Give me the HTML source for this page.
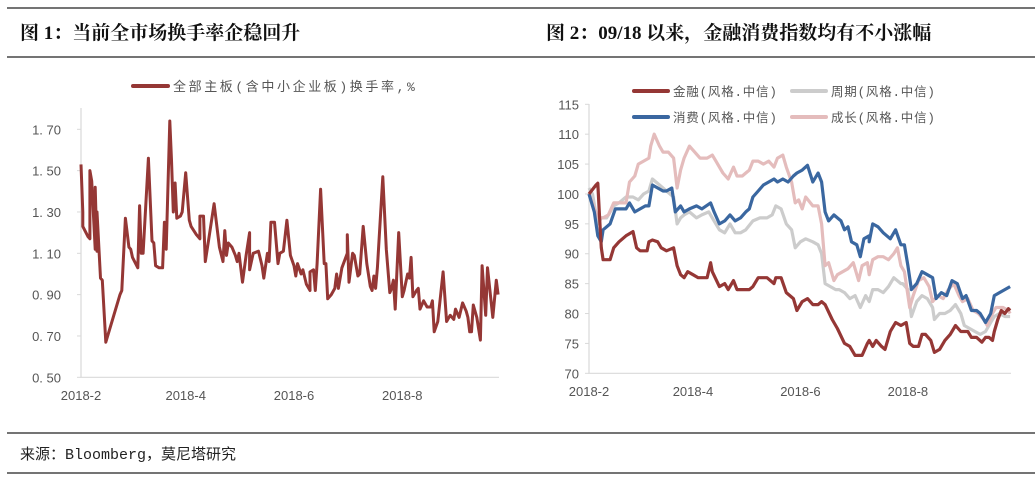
<!DOCTYPE html>
<html><head><meta charset="utf-8">
<style>
html,body{margin:0;padding:0;background:#fff;}
svg{display:block;}
text{font-family:"Liberation Sans","Noto Sans CJK SC",sans-serif;}
.title{font-family:"Liberation Serif","Noto Serif CJK SC",serif;font-weight:bold;font-size:19px;fill:#111;}
.tick{font-size:13px;fill:#555;}
.leg{font-size:12.5px;fill:#555;font-family:"Liberation Mono","Noto Sans CJK SC",monospace;letter-spacing:0.8px;}
</style></head>
<body>
<svg id="root" width="1035" height="484" viewBox="0 0 1035 484">
  <line x1="7" y1="8" x2="1035" y2="8" stroke="#222" stroke-width="1.2"/>
  <line x1="7" y1="57" x2="1035" y2="57" stroke="#222" stroke-width="1.2"/>
  <line x1="7" y1="433" x2="1035" y2="433" stroke="#222" stroke-width="1.2"/>
  <line x1="7" y1="473" x2="1035" y2="473" stroke="#222" stroke-width="1.2"/>
  <text class="title" x="20" y="39">图 1：当前全市场换手率企稳回升</text>
  <text class="title" x="546" y="39">图 2：09/18 以来，金融消费指数均有不小涨幅</text>
  <text x="20" y="459" style="font-size:15px;fill:#222;font-family:'Liberation Mono','Noto Sans CJK SC',monospace">来源：Bloomberg，莫尼塔研究</text>
  <g id="c1"></g>
  <g id="c2"></g>
</svg>
<script>
// ---- Chart 1 data ----
const c1Days = [0,1,1,4,5,5,6,8,8,9,9,11,12,14,22,23,25,27,28,29,32,33,34,35,38,40,41,42,44,46,47,48,50,51,52,53,54,56,57,59,61,62,65,67,67,69,70,72,75,78,80,81,82,83,85,87,88,89,91,93,95,95,97,100,102,103,105,106,107,109,111,112,114,116,118,120,121,122,124,125,127,129,129,131,132,133,135,137,138,139,141,143,144,145,147,150,150,151,153,154,156,157,159,161,163,164,165,166,167,170,172,174,175,176,177,179,181,182,184,185,186,187,189,190,191,193,195,197,198,199,201,204,206,208,210,211,213,215,217,218,219,220,221,223,225,226,228,229,232,234,235];
const c1Values = [1.53,1.30,1.23,1.18,1.17,1.50,1.45,1.12,1.42,1.11,1.30,0.98,0.97,0.67,0.90,0.92,1.27,1.13,1.12,1.08,1.03,1.33,1.10,1.10,1.56,1.16,1.15,1.04,1.03,1.03,1.25,1.12,1.74,1.55,1.30,1.44,1.27,1.28,1.30,1.49,1.26,1.23,1.19,1.17,1.28,1.28,1.06,1.17,1.34,1.13,1.06,1.21,1.09,1.15,1.13,1.09,1.06,1.10,0.96,1.09,1.20,1.02,1.10,1.11,1.04,0.98,1.10,1.06,1.25,1.25,1.05,1.10,1.11,1.26,1.09,1.04,0.99,1.05,1.00,1.02,0.95,0.92,1.01,1.02,0.92,1.05,1.41,1.05,1.05,0.88,0.90,0.93,1.00,0.93,1.03,1.10,1.19,0.96,1.10,1.09,0.99,1.00,1.23,1.05,0.94,0.92,0.99,0.93,1.03,1.47,1.12,0.91,0.93,0.97,0.83,1.20,0.89,0.92,1.00,0.98,1.08,0.89,0.92,0.93,0.83,0.87,0.84,0.84,0.87,0.72,0.77,1.01,0.77,0.80,0.78,0.83,0.79,0.86,0.82,0.79,0.72,0.72,0.85,0.79,0.68,1.04,0.80,1.03,0.79,0.97,0.90];
const c1YTicks = [0.50,0.70,0.90,1.10,1.30,1.50,1.70];
const c1XTicks = ["2018-2","2018-4","2018-6","2018-8"];
const c1XTickDays = [0,59,120,181];
// ---- Chart 2 data ----
const finDays=[0,4,5,6,7,8,12,14,17,21,25,27,29,33,34,36,39,41,44,48,50,52,54,56,59,62,67,69,70,74,77,79,82,84,91,93,96,101,105,106,109,112,116,118,121,124,127,130,132,134,138,141,145,148,151,155,158,159,161,163,166,168,171,174,177,180,182,184,187,189,191,194,196,199,202,205,208,211,215,217,220,223,225,227,229,230,232,234,236,238,239];
const finValues=[100,101.5,101.8,96,91,89,89,91,92,93,93.7,91,90.5,90.5,92,92.3,92,91,90.5,91,88,86.5,86,87,86.5,86,86,88.5,87,84.5,85,84,85.5,84,84,84.5,86,86,85,86,86,83.5,82.5,80.5,82,82.5,81.5,81.5,82,81.5,79,77.5,75,74.5,73,73,75,75.5,74.5,75.5,74.5,74,77,78.5,78,78.5,75,74.5,74.5,76.5,76.5,75.5,73.5,74,75.5,76.5,78,77,77,76,76,75.2,76,76,75.5,77,79,80.5,80,80.8,80.5];
const conDays=[0,3,5,7,8,12,15,17,21,23,26,29,32,34,36,39,42,44,47,49,52,54,57,61,64,69,71,74,77,80,83,86,89,91,93,96,99,102,105,107,110,113,116,118,121,124,127,130,132,134,136,139,141,143,145,147,149,152,154,156,159,159,161,164,167,169,171,174,177,179,181,183,186,189,192,195,197,200,203,206,209,212,214,217,220,222,225,228,230,233,236,239];
const conValues=[100,97,93,92,94,95,97.5,97.5,97.5,98.5,97,97.5,98,98,101.5,101,100.5,100.5,101,97,98,97,97.5,98,97.5,98.5,97,95,95.5,96.5,95.5,96,97,97.5,99.5,100.5,101.5,102,102.5,102,102.5,102,103,103.5,104,104.8,102,103.5,102,97,95.5,96.5,96,95.5,94,94.5,92,91.5,89.5,92.5,93,92,95,94.5,93.5,93,92.5,94,91.5,91.5,88,84,85,87,86.5,86,82.5,83.5,83,85.5,85,82.5,83,80.5,80.5,80,78.5,80,83,83.5,84,84.5];
const cycDays=[0,2,5,7,10,14,17,21,25,28,31,34,36,40,44,48,50,52,54,57,61,64,68,70,74,77,80,83,86,89,93,97,101,104,106,109,112,115,117,120,123,127,130,132,134,137,140,142,145,148,151,154,157,159,161,164,167,170,173,177,178,181,183,186,189,192,195,196,199,202,205,208,211,213,216,219,222,225,228,230,233,236,239];
const cycValues=[101,100,95,96,96,98,98.5,99.5,99.5,99,100,100.5,102.5,101.5,100.5,99.5,95,96,96.5,97,96,96.5,97,96,94,93.5,95,93.5,93.5,94,95.5,96,96,96.5,98,97.5,95,94,91,92,92.5,92,91.5,90,85,84.5,84,84,83.5,82.5,83,81,83,82,84,84,83.5,84.5,86,85,85,84,79.5,82,83,82.5,81,79,80,80,80.5,81.5,80,78,77.5,77,76.5,77,78.5,79.5,80,79.5,79.5];
const groDays=[0,2,5,8,11,14,17,21,23,26,28,31,34,35,37,40,42,45,48,50,52,54,57,60,63,67,70,72,74,76,79,82,84,87,89,91,93,96,99,102,105,107,110,112,115,117,119,121,123,127,130,132,134,136,139,141,144,147,150,153,155,158,159,161,164,167,170,173,175,177,179,182,184,187,190,193,195,198,201,204,207,210,212,215,218,221,224,226,229,231,235,238,239];
const groValues=[100,98.5,96,96,96.5,98.5,98.5,98.5,102,103,105,105.5,106,108,110,108,107,107,106,101,104,106,108,107,106,106,106.5,105.5,104.5,103.5,102.5,104.5,103,103,103.5,104,105.5,105.5,105,105.5,104.5,106,106.5,104.5,102,98.5,99,97.5,99.5,98,98,95,88,88.5,85.5,86.5,87,87.5,88.5,85.5,88,88.5,86.5,89,89.5,89.5,89,90,91,88,87,81,83,85.5,86,84.5,82,83,82.5,84,85,83,82,82.5,80.5,80,79,78,80,81,81,80.5,80];
const c2YTicks=[70,75,80,85,90,95,100,105,110,115];
const c2XTicks=["2018-2","2018-4","2018-6","2018-8"];
const c2XTickDays=[0,59,120,181];
const seriesNames=["金融(风格.中信)","周期(风格.中信)","消费(风格.中信)","成长(风格.中信)"];

const NS="http://www.w3.org/2000/svg";
function mk(parent,tag,attrs){const e=document.createElementNS(NS,tag);for(const k in attrs)e.setAttribute(k,attrs[k]);parent.appendChild(e);return e;}
function pathD(xs,ys,fx,fy){return xs.map((d,i)=>(i?"L":"M")+fx(d).toFixed(1)+","+fy(ys[i]).toFixed(1)).join("");}

// Chart 1
(function(){
  const g=document.getElementById('c1');
  const x0=81,x1=499,yTop=129.3,yBot=377.3;
  const fx=d=>x0+d*1.775;
  const fy=v=>yBot-(v-0.5)/(1.2)*(yBot-yTop);
  const ax=mk(g,'path',{d:`M${x0},108V${yBot}H${x1}`,fill:'none',stroke:'#d9d9d9','stroke-width':1.2});
  
  
  c1YTicks.forEach(v=>{
    const y=fy(v);
    const tk=mk(g,'line',{x1:x0-4,x2:x0,y1:y,y2:y,stroke:'#d9d9d9'});
    
    
    const t=mk(g,'text',{x:61,y:y+5,class:'tick','text-anchor':'end'});t.textContent=v.toFixed(2).replace('.', '. ');
    
    
  });
  c1XTicks.forEach((s,i)=>{
    const t=mk(g,'text',{x:fx(c1XTickDays[i]),y:400,class:'tick','text-anchor':'middle'});t.textContent=s;
    
    
  });
  const ln=mk(g,'path',{d:pathD(c1Days,c1Values,fx,fy),fill:'none',stroke:'#953735','stroke-width':3,'stroke-linejoin':'round'});
  
  
  const ll=mk(g,'line',{x1:133,x2:168,y1:86,y2:86,stroke:'#953735','stroke-width':4,'stroke-linecap':'round'});
  
  
  const lt=mk(g,'text',{x:173,y:91,class:'leg',style:'font-size:13px;letter-spacing:2.6px'});lt.textContent="全部主板(含中小企业板)换手率,%";
  
  
})();

// Chart 2
(function(){
  const g=document.getElementById('c2');
  const x0=589,x1=1011,yTop=104.3,yBot=373.3;
  const fx=d=>x0+d*1.762;
  const fy=v=>yBot-(v-70)/45*(yBot-yTop);
  const ax=mk(g,'path',{d:`M${x0},104V${yBot}H${x1}`,fill:'none',stroke:'#d9d9d9','stroke-width':1.2});
  
  
  c2YTicks.forEach(v=>{
    const y=fy(v);
    const tk=mk(g,'line',{x1:x0-4,x2:x0,y1:y,y2:y,stroke:'#d9d9d9'});
    
    
    const t=mk(g,'text',{x:579,y:y+5,class:'tick','text-anchor':'end'});t.textContent=v;
    
    
  });
  c2XTicks.forEach((s,i)=>{
    const t=mk(g,'text',{x:fx(c2XTickDays[i]),y:396,class:'tick','text-anchor':'middle'});t.textContent=s;
    
    
  });
  const series=[[cycDays,cycValues,'#cccccc','cycle-line'],[groDays,groValues,'#e4bcbc','growth-line'],[conDays,conValues,'#3a67a0','consumer-line'],[finDays,finValues,'#953735','finance-line']];
  series.forEach(s=>{
    const p=mk(g,'path',{d:pathD(s[0],s[1],fx,fy),fill:'none',stroke:s[2],'stroke-width':3.2,'stroke-linejoin':'round'});
    
    
  });
  const legColors=['#953735','#cccccc','#3a67a0','#e4bcbc'];
  const legPos=[[634,91],[792,91],[634,117],[792,117]];
  seriesNames.forEach((n,i)=>{
    const [lx,ly]=legPos[i];
    const sw=mk(g,'line',{x1:lx,x2:lx+34,y1:ly,y2:ly,stroke:legColors[i],'stroke-width':4,'stroke-linecap':'round'});
    
    
    const t=mk(g,'text',{x:lx+39,y:ly+5,class:'leg'});t.textContent=n;
    
    
  });
})();
</script>
</body></html>
